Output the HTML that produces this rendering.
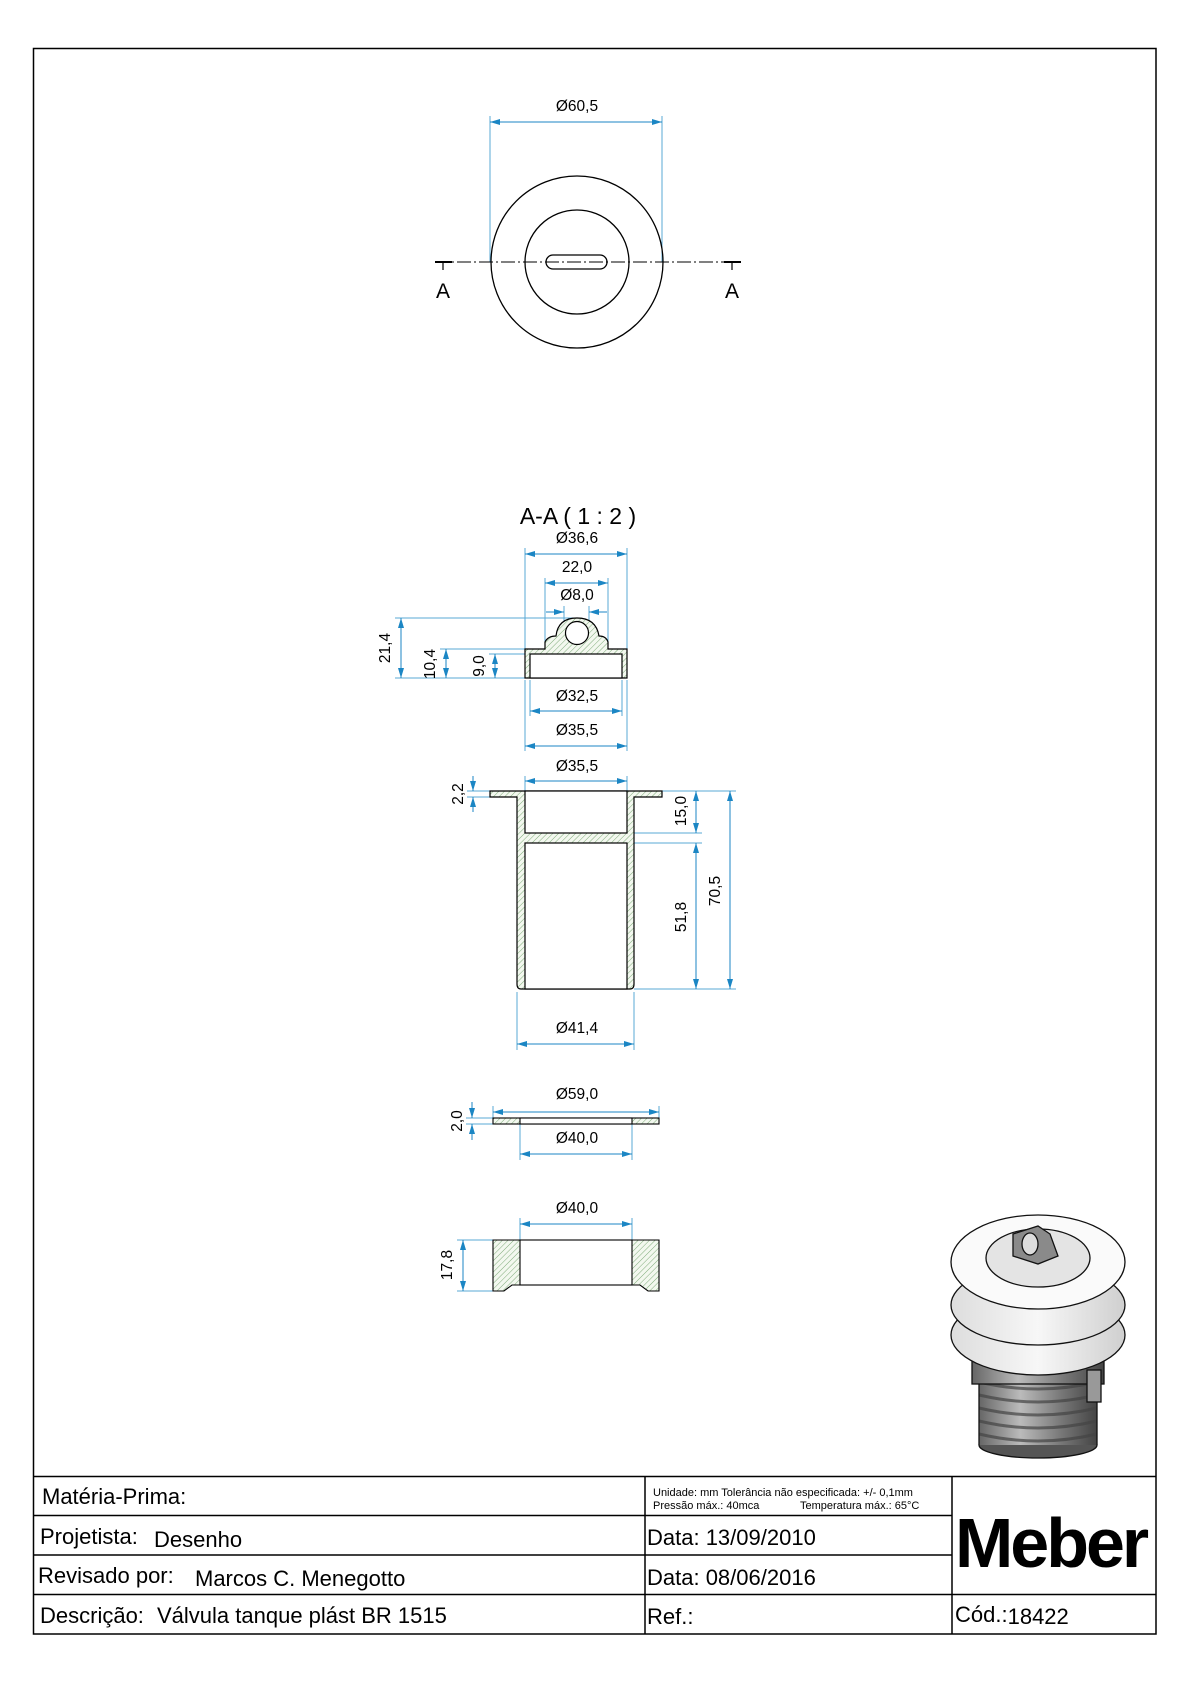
<!DOCTYPE html>
<html><head><meta charset="utf-8"><style>
html,body{margin:0;padding:0;background:#fff;}
svg{display:block;}
text{font-family:"Liberation Sans",sans-serif;}
</style></head><body>
<svg width="1190" height="1684" viewBox="0 0 1190 1684" xmlns="http://www.w3.org/2000/svg">
<defs>
<pattern id="h" patternUnits="userSpaceOnUse" width="4" height="4" patternTransform="rotate(45)">
<rect width="4" height="4" fill="#f3f8ef"/><line x1="0" y1="0" x2="0" y2="4" stroke="#7fab7a" stroke-width="1"/>
</pattern>
<marker id="a" viewBox="0 0 10 6" refX="10" refY="3" markerWidth="10" markerHeight="6" orient="auto-start-reverse" markerUnits="userSpaceOnUse">
<path d="M0,0 L10,3 L0,6 z" fill="#1b86c4"/></marker>
<linearGradient id="g1" x1="0" x2="1"><stop offset="0" stop-color="#666"/><stop offset="0.35" stop-color="#bbb"/><stop offset="0.7" stop-color="#777"/><stop offset="1" stop-color="#444"/></linearGradient>
<linearGradient id="g2" x1="0" x2="1"><stop offset="0" stop-color="#ddd"/><stop offset="0.5" stop-color="#f7f7f7"/><stop offset="1" stop-color="#cfcfcf"/></linearGradient>
</defs>
<rect width="1190" height="1684" fill="#fff"/>
<rect x="33.5" y="48.5" width="1122.5" height="1585.5" fill="none" stroke="#000" stroke-width="1.5"/>

<!-- top view -->
<g stroke="#5aa9d6" stroke-width="1" fill="none">
<line x1="490" y1="116" x2="490" y2="262"/><line x1="662" y1="116" x2="662" y2="262"/>
<line x1="490" y1="122" x2="662" y2="122" stroke="#1b86c4" marker-start="url(#a)" marker-end="url(#a)"/>
</g>
<text x="577" y="111" font-size="15.5" text-anchor="middle">Ø60,5</text>
<g fill="none" stroke="#000" stroke-width="1.3">
<circle cx="577" cy="262" r="86"/>
<circle cx="577" cy="262" r="52"/>
<rect x="546" y="255" width="61" height="14" rx="7"/>
</g>
<line x1="435" y1="262" x2="741" y2="262" stroke="#000" stroke-width="1" stroke-dasharray="14,3,2,3"/>
<g stroke="#000" stroke-width="2"><line x1="435" y1="262" x2="452" y2="262"/><line x1="724" y1="262" x2="741" y2="262"/></g>
<g stroke="#000" stroke-width="1.2"><line x1="443" y1="262" x2="443" y2="270"/><line x1="732" y1="262" x2="732" y2="270"/></g>
<text x="443" y="298" font-size="21" text-anchor="middle">A</text>
<text x="732" y="298" font-size="21" text-anchor="middle">A</text>

<text x="578" y="524" font-size="23" text-anchor="middle">A-A ( 1 : 2 )</text>

<!-- cap -->
<g stroke="#5aa9d6" stroke-width="1" fill="none">
<line x1="525" y1="548" x2="525" y2="649"/><line x1="627" y1="548" x2="627" y2="649"/>
<line x1="545" y1="578" x2="545" y2="644"/><line x1="608" y1="578" x2="608" y2="644"/>
<line x1="564" y1="606" x2="564" y2="625"/><line x1="589" y1="606" x2="589" y2="625"/>
<line x1="395" y1="618" x2="578" y2="618"/>
<line x1="440" y1="649" x2="525" y2="649"/>
<line x1="489" y1="654" x2="530" y2="654"/>
<line x1="395" y1="678" x2="525" y2="678"/>
<line x1="530" y1="680" x2="530" y2="716"/><line x1="622" y1="680" x2="622" y2="716"/>
<line x1="525" y1="680" x2="525" y2="751"/><line x1="627" y1="680" x2="627" y2="751"/>
</g>
<g stroke="#1b86c4" stroke-width="1" fill="none">
<line x1="525" y1="554" x2="627" y2="554" marker-start="url(#a)" marker-end="url(#a)"/>
<line x1="545" y1="583" x2="608" y2="583" marker-start="url(#a)" marker-end="url(#a)"/>
<line x1="546" y1="612" x2="564" y2="612" marker-end="url(#a)"/>
<line x1="607" y1="612" x2="589" y2="612" marker-end="url(#a)"/>
<line x1="401" y1="618" x2="401" y2="678" marker-start="url(#a)" marker-end="url(#a)"/>
<line x1="446" y1="649" x2="446" y2="678" marker-start="url(#a)" marker-end="url(#a)"/>
<line x1="495" y1="654" x2="495" y2="678" marker-start="url(#a)" marker-end="url(#a)"/>
<line x1="530" y1="711" x2="622" y2="711" marker-start="url(#a)" marker-end="url(#a)"/>
<line x1="525" y1="746" x2="627" y2="746" marker-start="url(#a)" marker-end="url(#a)"/>
</g>
<text x="577" y="543" font-size="15.5" text-anchor="middle">Ø36,6</text>
<text x="577" y="572" font-size="15.5" text-anchor="middle">22,0</text>
<text x="577" y="600" font-size="15.5" text-anchor="middle">Ø8,0</text>
<text x="577" y="701" font-size="15.5" text-anchor="middle">Ø32,5</text>
<text x="577" y="735" font-size="15.5" text-anchor="middle">Ø35,5</text>
<text transform="translate(390,648) rotate(-90)" font-size="15.5" text-anchor="middle">21,4</text>
<text transform="translate(435,664) rotate(-90)" font-size="15.5" text-anchor="middle">10,4</text>
<text transform="translate(484,666) rotate(-90)" font-size="15.5" text-anchor="middle">9,0</text>
<path d="M525,649 L545,649 L545,642 Q548,636 556,636 Q558,618 577,618 Q596,618 599,636 Q606,636 608,642 L608,649 L627,649 L627,678 L525,678 Z" fill="url(#h)" stroke="#000" stroke-width="1.2"/>
<circle cx="577" cy="633" r="11.5" fill="#fff" stroke="#000" stroke-width="1.2"/>
<rect x="530" y="654" width="92" height="24" fill="#fff" stroke="#000" stroke-width="1.2"/>

<!-- pipe -->
<g stroke="#5aa9d6" stroke-width="1" fill="none">
<line x1="525" y1="776" x2="525" y2="791"/><line x1="627" y1="776" x2="627" y2="791"/>
<line x1="467" y1="791" x2="490" y2="791"/><line x1="467" y1="797" x2="490" y2="797"/>
<line x1="662" y1="791" x2="736" y2="791"/>
<line x1="634" y1="833" x2="702" y2="833"/><line x1="634" y1="843" x2="702" y2="843"/>
<line x1="634" y1="989" x2="736" y2="989"/>
<line x1="517" y1="992" x2="517" y2="1050"/><line x1="634" y1="992" x2="634" y2="1050"/>
</g>
<g stroke="#1b86c4" stroke-width="1" fill="none">
<line x1="525" y1="781" x2="627" y2="781" marker-start="url(#a)" marker-end="url(#a)"/>
<line x1="473" y1="776" x2="473" y2="791" marker-end="url(#a)"/>
<line x1="473" y1="812" x2="473" y2="797" marker-end="url(#a)"/>
<line x1="696" y1="791" x2="696" y2="833" marker-start="url(#a)" marker-end="url(#a)"/>
<line x1="696" y1="843" x2="696" y2="989" marker-start="url(#a)" marker-end="url(#a)"/>
<line x1="730" y1="791" x2="730" y2="989" marker-start="url(#a)" marker-end="url(#a)"/>
<line x1="517" y1="1044" x2="634" y2="1044" marker-start="url(#a)" marker-end="url(#a)"/>
</g>
<text x="577" y="771" font-size="15.5" text-anchor="middle">Ø35,5</text>
<text x="577" y="1033" font-size="15.5" text-anchor="middle">Ø41,4</text>
<text transform="translate(463,794) rotate(-90)" font-size="15.5" text-anchor="middle">2,2</text>
<text transform="translate(686,811) rotate(-90)" font-size="15.5" text-anchor="middle">15,0</text>
<text transform="translate(686,917) rotate(-90)" font-size="15.5" text-anchor="middle">51,8</text>
<text transform="translate(720,891) rotate(-90)" font-size="15.5" text-anchor="middle">70,5</text>
<path d="M490,791 L662,791 L662,797 L634,797 L634,984 Q634,989 630,989 L521,989 Q517,989 517,984 L517,797 L490,797 Z" fill="url(#h)" stroke="#000" stroke-width="1.2"/>
<rect x="525" y="791" width="102" height="42" fill="#fff" stroke="#000" stroke-width="1.2"/>
<rect x="525" y="843" width="102" height="146" fill="#fff" stroke="#000" stroke-width="1.2"/>

<!-- washer -->
<g stroke="#5aa9d6" stroke-width="1" fill="none">
<line x1="493" y1="1106" x2="493" y2="1118"/><line x1="659" y1="1106" x2="659" y2="1118"/>
<line x1="466" y1="1118" x2="493" y2="1118"/><line x1="466" y1="1124" x2="493" y2="1124"/>
<line x1="520" y1="1124" x2="520" y2="1160"/><line x1="632" y1="1124" x2="632" y2="1160"/>
</g>
<g stroke="#1b86c4" stroke-width="1" fill="none">
<line x1="493" y1="1112" x2="659" y2="1112" marker-start="url(#a)" marker-end="url(#a)"/>
<line x1="472" y1="1102" x2="472" y2="1118" marker-end="url(#a)"/>
<line x1="472" y1="1140" x2="472" y2="1124" marker-end="url(#a)"/>
<line x1="520" y1="1154" x2="632" y2="1154" marker-start="url(#a)" marker-end="url(#a)"/>
</g>
<text x="577" y="1099" font-size="15.5" text-anchor="middle">Ø59,0</text>
<text x="577" y="1143" font-size="15.5" text-anchor="middle">Ø40,0</text>
<text transform="translate(462,1121) rotate(-90)" font-size="15.5" text-anchor="middle">2,0</text>
<rect x="493" y="1118" width="166" height="6" fill="url(#h)" stroke="#000" stroke-width="1.1"/>
<rect x="520" y="1118" width="112" height="6" fill="#fff" stroke="#000" stroke-width="1.1"/>

<!-- ring -->
<g stroke="#5aa9d6" stroke-width="1" fill="none">
<line x1="520" y1="1218" x2="520" y2="1240"/><line x1="632" y1="1218" x2="632" y2="1240"/>
<line x1="457" y1="1240" x2="493" y2="1240"/><line x1="457" y1="1291" x2="493" y2="1291"/>
</g>
<g stroke="#1b86c4" stroke-width="1" fill="none">
<line x1="520" y1="1224" x2="632" y2="1224" marker-start="url(#a)" marker-end="url(#a)"/>
<line x1="463" y1="1240" x2="463" y2="1291" marker-start="url(#a)" marker-end="url(#a)"/>
<line x1="599" y1="1240" x2="599" y2="1285" marker-start="url(#a)" marker-end="url(#a)"/>
</g>
<text x="577" y="1213" font-size="15.5" text-anchor="middle">Ø40,0</text>
<text transform="translate(452,1265) rotate(-90)" font-size="15.5" text-anchor="middle">17,8</text>
<text transform="translate(588,1262) rotate(-90)" font-size="15.5" text-anchor="middle">15,8</text>
<path d="M493,1240 L659,1240 L659,1291 L648,1291 L640,1285 L512,1285 L504,1291 L493,1291 Z" fill="url(#h)" stroke="#000" stroke-width="1.1"/>
<rect x="520" y="1240" width="112" height="45" fill="#fff" stroke="#000" stroke-width="1.1"/>

<!-- 3D render -->
<g stroke="#111" stroke-width="1.3">
<ellipse cx="1038" cy="1445" rx="59" ry="13" fill="#555"/>
<rect x="979" y="1370" width="118" height="75" fill="url(#g1)" stroke="none"/>
<g fill="none" stroke="#444" stroke-width="3" opacity="0.7">
<path d="M979,1382 Q1038,1396 1097,1382"/><path d="M979,1395 Q1038,1409 1097,1395"/><path d="M979,1408 Q1038,1422 1097,1408"/><path d="M979,1421 Q1038,1435 1097,1421"/><path d="M979,1434 Q1038,1448 1097,1434"/>
</g>
<line x1="979" y1="1370" x2="979" y2="1445"/><line x1="1097" y1="1370" x2="1097" y2="1445"/>
<rect x="972" y="1360" width="132" height="24" fill="url(#g1)"/>
<rect x="1087" y="1370" width="14" height="32" fill="#999"/>
<ellipse cx="1038" cy="1335" rx="87" ry="40" fill="url(#g2)"/>
<ellipse cx="1038" cy="1314" rx="60" ry="22" fill="#777" stroke="none"/>
<ellipse cx="1038" cy="1305" rx="87" ry="40" fill="url(#g2)"/>
<ellipse cx="1038" cy="1286" rx="60" ry="22" fill="#777" stroke="none"/>
<ellipse cx="1038" cy="1262" rx="87" ry="47" fill="#fafafa"/>
<ellipse cx="1038" cy="1258" rx="52" ry="29" fill="#e4e4e4"/>
<path d="M1013,1234 L1038,1226 L1050,1234 L1058,1256 L1038,1264 L1013,1256 Z" fill="#8a8a8a"/>
<ellipse cx="1030" cy="1244" rx="8" ry="11" fill="#ddd"/>
</g>

<!-- title block -->
<g stroke="#000" stroke-width="1.5" fill="none">
<line x1="33.5" y1="1476.5" x2="1156" y2="1476.5"/>
<line x1="33.5" y1="1515.5" x2="952" y2="1515.5"/>
<line x1="33.5" y1="1555" x2="952" y2="1555"/>
<line x1="33.5" y1="1594.5" x2="1156" y2="1594.5"/>
<line x1="645" y1="1476.5" x2="645" y2="1634"/>
<line x1="952" y1="1476.5" x2="952" y2="1634"/>
</g>
<g font-size="22">
<text x="42" y="1504">Matéria-Prima:</text>
<text x="40" y="1544">Projetista:</text><text x="154" y="1547">Desenho</text>
<text x="38" y="1583">Revisado por:</text><text x="195" y="1586">Marcos C. Menegotto</text>
<text x="40" y="1623">Descrição:</text><text x="157" y="1623">Válvula tanque plást BR 1515</text>
<text x="647" y="1545">Data: 13/09/2010</text>
<text x="647" y="1585">Data: 08/06/2016</text>
<text x="647" y="1624">Ref.:</text>
<text x="955" y="1622">Cód.:<tspan y="1624">18422</tspan></text>
</g>
<text x="653" y="1496" font-size="11">Unidade: mm Tolerância não especificada: +/- 0,1mm</text>
<text x="653" y="1509" font-size="11">Pressão máx.: 40mca <tspan x="800">Temperatura máx.: 65°C</tspan></text>
<text x="955" y="1567" font-size="70" font-weight="bold" letter-spacing="-3">Meber</text>
</svg>
</body></html>
